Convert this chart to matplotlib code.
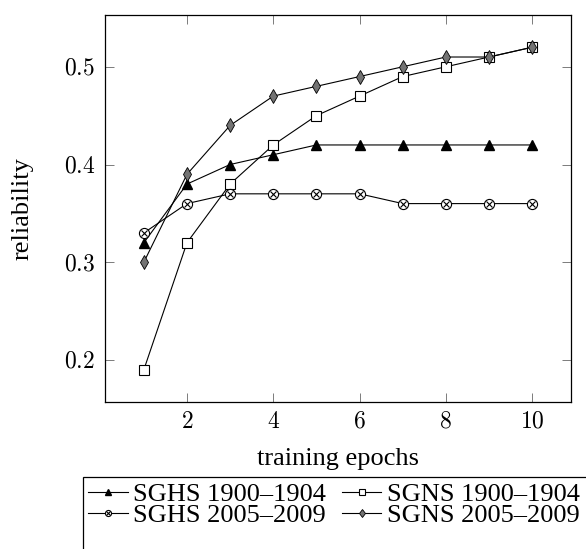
import numpy as np
import matplotlib.pyplot as plt
from matplotlib.patches import Rectangle
from matplotlib.ticker import FuncFormatter

plt.rcParams['mathtext.fontset'] = 'cm'
plt.rcParams['font.family'] = 'Liberation Serif'

epochs = [1, 2, 3, 4, 5, 6, 7, 8, 9, 10]
sghs_1900 = [0.32, 0.38, 0.40, 0.41, 0.42, 0.42, 0.42, 0.42, 0.42, 0.42]
sgns_1900 = [0.19, 0.32, 0.38, 0.42, 0.45, 0.47, 0.49, 0.50, 0.51, 0.52]
sghs_2005 = [0.33, 0.36, 0.37, 0.37, 0.37, 0.37, 0.36, 0.36, 0.36, 0.36]
sgns_2005 = [0.30, 0.39, 0.44, 0.47, 0.48, 0.49, 0.50, 0.51, 0.51, 0.52]

fig = plt.figure(figsize=(5.86, 5.49), dpi=100)
ax = fig.add_axes([0.1792, 0.2678, 0.7952, 0.7049])

lw = 0.8
l1, = ax.plot(epochs, sghs_1900, '-', color='k', lw=lw, marker='^',
              markersize=7, markerfacecolor='k', markeredgecolor='k')
l2, = ax.plot(epochs, sgns_1900, '-', color='k', lw=lw, marker='s',
              markersize=7.3, markerfacecolor='white', markeredgecolor='k',
              markeredgewidth=0.8)
l3, = ax.plot(epochs, sghs_2005, '-', color='k', lw=lw, marker='o',
              markersize=7.3, markerfacecolor='white', markeredgecolor='k',
              markeredgewidth=0.8)
l3x, = ax.plot(epochs, sghs_2005, linestyle='none', marker='x',
               markersize=5, markeredgecolor='k', markeredgewidth=0.8)
l4, = ax.plot(epochs, sgns_2005, '-', color='k', lw=lw, marker='d',
              markersize=7.2, markerfacecolor='0.45', markeredgecolor='k',
              markeredgewidth=0.6)

ax.set_xlim(0.1, 10.9)
ax.set_ylim(0.157, 0.553)
ax.set_xticks([2, 4, 6, 8, 10])
ax.set_yticks([0.2, 0.3, 0.4, 0.5])
ax.xaxis.set_major_formatter(FuncFormatter(lambda v, p: r'$%d$' % v))
ax.yaxis.set_major_formatter(FuncFormatter(lambda v, p: r'$%.1f$' % v))
ax.tick_params(direction='in', length=6.5, width=0.6, color='0.4',
               top=True, right=True, labelsize=17, pad=7)
for s in ax.spines.values():
    s.set_linewidth(0.9)

ax.set_xlabel('training epochs', fontsize=19, labelpad=11)
ax.set_ylabel('reliability', fontsize=19, labelpad=22)

# legend below the axes; its frame runs past the figure edge
leg_left, leg_top = 0.1416, 0.1311
leg = ax.legend([l1, (l3, l3x), l2, l4],
                ['SGHS 1900–1904', 'SGHS 2005–2009',
                 'SGNS 1900–1904', 'SGNS 2005–2009'],
                ncol=2, loc='upper left', bbox_to_anchor=(leg_left, leg_top),
                bbox_transform=fig.transFigure, borderaxespad=0, fontsize=19,
                frameon=False, borderpad=0.2, handlelength=1.5,
                handletextpad=0.2, columnspacing=0.6, labelspacing=-0.08,
                markerscale=0.6)
fig.patches.append(Rectangle((leg_left, -0.1), 1.0, leg_top + 0.1,
                             transform=fig.transFigure, fill=False,
                             edgecolor='k', lw=0.9, clip_on=False))

fig.savefig('out.png', dpi=100)
